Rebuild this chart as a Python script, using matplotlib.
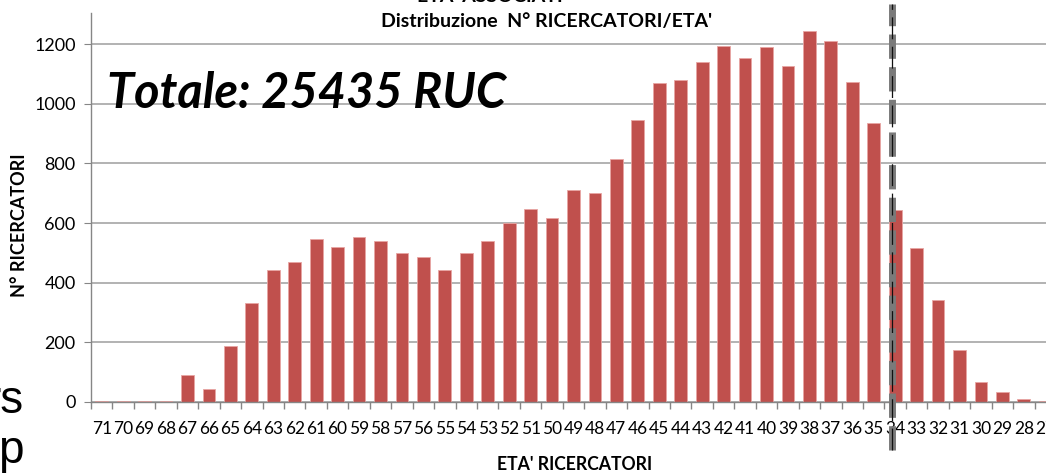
import matplotlib.pyplot as plt
import numpy as np

# Ages shown on the x axis (oldest on the left)
eta = list(range(71, 26, -1))

# Number of researchers per age
ricercatori = [2, 2, 2, 5, 90, 45, 188, 333, 443, 468,
               546, 521, 553, 540, 500, 485, 443, 500, 540, 600,
               648, 617, 711, 700, 815, 945, 1070, 1080, 1140, 1195,
               1153, 1190, 1127, 1245, 1210, 1073, 935, 645, 517, 342,
               175, 67, 35, 10, 3]

eta_soglia = 34  # dashed marker

W, H = 1046, 473
fig = plt.figure(figsize=(W / 100, H / 100), dpi=100)
plt.rcParams["font.family"] = ["Lato", "DejaVu Sans"]

# axes box in pixels: left 91, right ~1056 (runs past the edge), y=0 at 402
ymax = 1304
left, right = 91, 1056
bottom_px, top_px = 402, 13
ax = fig.add_axes([left / W, 1 - bottom_px / H, (right - left) / W, (bottom_px - top_px) / H])

x = np.arange(len(eta))
ax.bar(x, ricercatori, width=0.6, color="#C0504D", edgecolor="#E8A5A3", linewidth=0.6, zorder=2)

ax.set_xlim(-0.5, len(eta) - 0.5)
ax.set_ylim(0, ymax)

ax.set_xticks(x)
ax.set_xticklabels([str(e) for e in eta], fontsize=12.5)
ax.set_xticks(np.arange(-0.5, len(eta), 1), minor=True)
ax.tick_params(axis="x", which="major", length=0, pad=13.5)
ax.tick_params(axis="x", which="minor", length=5, color="#868686", width=1)

ax.set_yticks(range(0, 1201, 200))
ax.tick_params(axis="y", labelsize=13, length=5, color="#868686", pad=6)
ax.yaxis.grid(True, color="#A6A6A6", linewidth=1.2, zorder=0)
ax.set_axisbelow(True)

for s in ["top", "right"]:
    ax.spines[s].set_visible(False)
for s in ["left", "bottom"]:
    ax.spines[s].set_color("#868686")
    ax.spines[s].set_linewidth(1)

# dashed threshold line
xs = eta.index(eta_soglia) - 0.15
ax.plot([xs, xs], [-160, 1335], color="#7A7A7A", lw=5, ls=(0, (3.5, 1.2)), clip_on=False, zorder=4)
ax.plot([xs, xs], [-160, 1335], color="#111111", lw=0.9, ls=(0, (17.5, 6)), clip_on=False, zorder=5)

# texts
fig.text(547 / W, 1 - 22 / H, "Distribuzione  N° RICERCATORI/ETA'", ha="center", va="center",
         fontsize=14, fontweight="bold")
fig.text(417 / W, 1 + 3 / H, "ETA' ASSOCIATI", ha="left", va="center", fontsize=14, fontweight="bold")
fig.text(107 / W, 1 - 94 / H, "Totale: 25435 RUC", ha="left", va="center",
         fontsize=35, fontweight="bold", fontstyle="italic")
fig.text(20 / W, 1 - 225 / H, "N° RICERCATORI", rotation=90, ha="center", va="center",
         fontsize=13, fontweight="bold")
fig.text(575 / W, 1 - 464 / H, "ETA' RICERCATORI", ha="center", va="center",
         fontsize=12.7, fontweight="bold")

# fragments of the slide behind the chart
fig.text(24 / W, 1 - 413 / H, "rs", ha="right", va="baseline", fontsize=33, family="Liberation Sans")
fig.text(24 / W, 1 - 463 / H, "p", ha="right", va="baseline", fontsize=33, family="Liberation Sans")

plt.savefig("out.png", dpi=100)
